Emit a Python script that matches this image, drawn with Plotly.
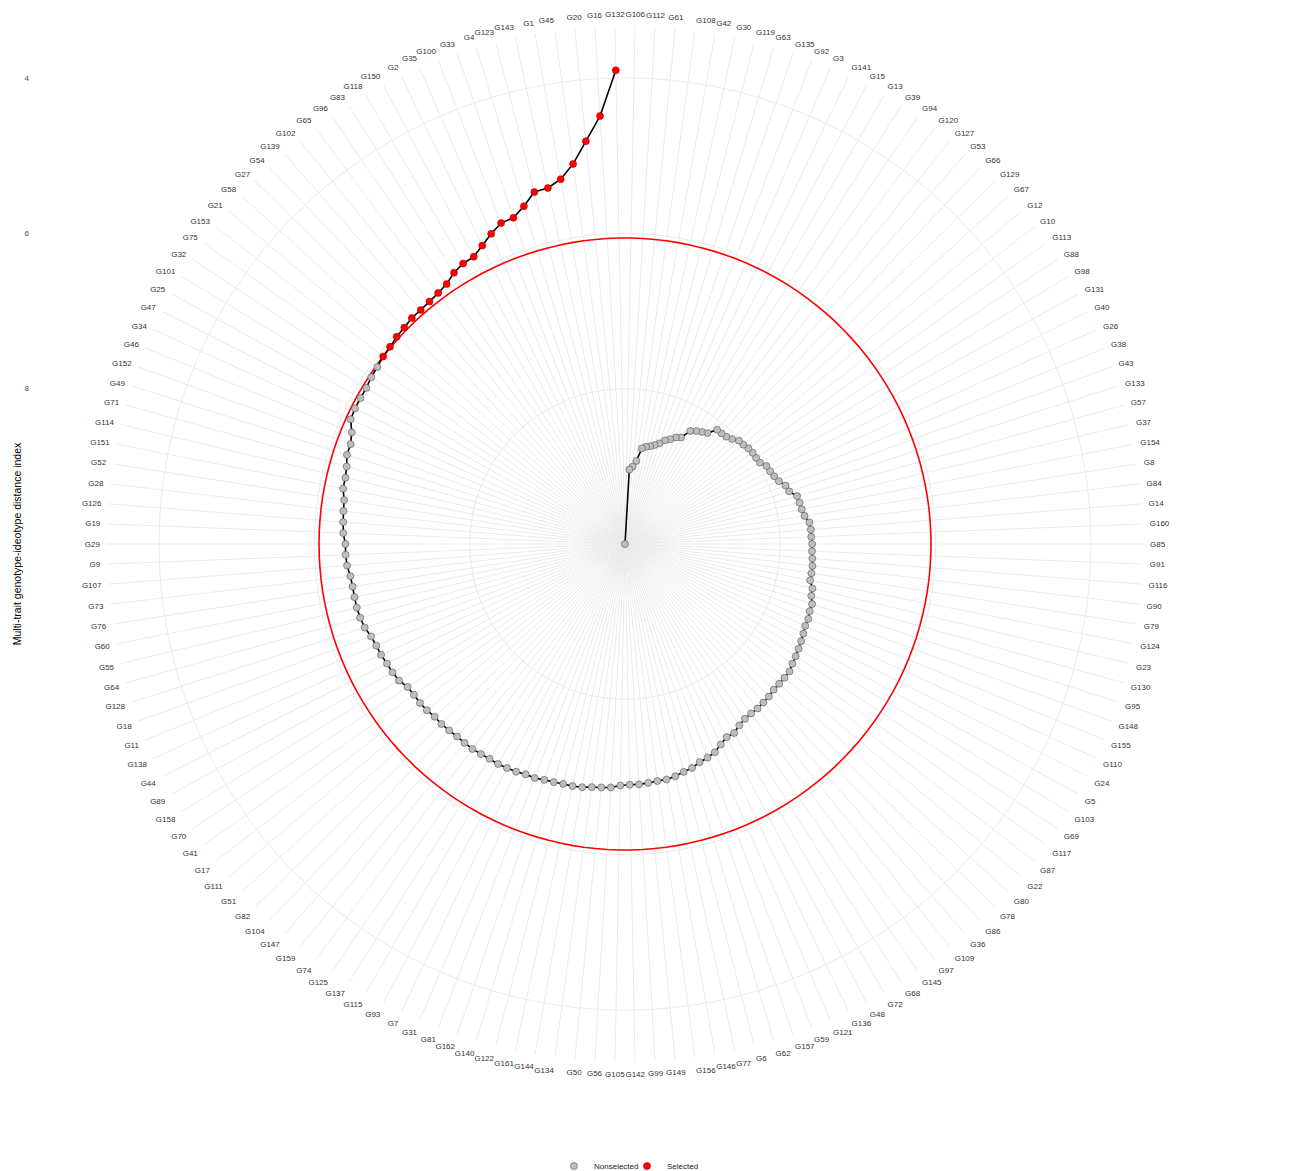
import plotly.graph_objects as go

# Genotypes ranked by MGIDI (lowest = closest to the ideotype)
genotypes = [
    "G132", "G16", "G20", "G45", "G1", "G143", "G123", "G4", "G33", "G100",
    "G35", "G2", "G150", "G118", "G83", "G96", "G65", "G102", "G139", "G54",
    "G27", "G58", "G21", "G153", "G75", "G32", "G101", "G25", "G47", "G34",
    "G46", "G152", "G49", "G71", "G114", "G151", "G52", "G28", "G126", "G19",
    "G29", "G9", "G107", "G73", "G76", "G60", "G55", "G64", "G128", "G18",
    "G11", "G138", "G44", "G89", "G158", "G70", "G41", "G17", "G111", "G51",
    "G82", "G104", "G147", "G159", "G74", "G125", "G137", "G115", "G93", "G7",
    "G31", "G81", "G162", "G140", "G122", "G161", "G144", "G134", "G50", "G56",
    "G105", "G142", "G99", "G149", "G156", "G146", "G77", "G6", "G62", "G157",
    "G59", "G121", "G136", "G48", "G72", "G68", "G145", "G97", "G109", "G36",
    "G86", "G78", "G80", "G22", "G87", "G117", "G69", "G103", "G5", "G24",
    "G110", "G155", "G148", "G95", "G130", "G23", "G124", "G79", "G90", "G116",
    "G91", "G85", "G160", "G14", "G84", "G8", "G154", "G37", "G57", "G133",
    "G43", "G38", "G26", "G40", "G131", "G98", "G88", "G113", "G10", "G12",
    "G67", "G129", "G66", "G53", "G127", "G120", "G94", "G39", "G13", "G15",
    "G141", "G3", "G92", "G135", "G63", "G119", "G30", "G42", "G108", "G61",
    "G112", "G106",
]

mgidi = [
    3.90, 4.48, 4.79, 5.06, 5.23, 5.31, 5.32, 5.46, 5.56, 5.57,
    5.65, 5.74, 5.82, 5.83, 5.87, 5.94, 5.97, 5.99, 6.00, 6.00,
    6.02, 6.03, 6.05, 6.06, 6.08, 6.09, 6.11, 6.11, 6.11, 6.12,
    6.20, 6.24, 6.24, 6.28, 6.30, 6.30, 6.34, 6.35, 6.36, 6.37,
    6.40, 6.40, 6.41, 6.44, 6.45, 6.45, 6.45, 6.46, 6.48, 6.52,
    6.54, 6.55, 6.57, 6.58, 6.60, 6.65, 6.66, 6.66, 6.67, 6.69,
    6.69, 6.70, 6.71, 6.71, 6.71, 6.72, 6.73, 6.73, 6.74, 6.75,
    6.77, 6.77, 6.79, 6.80, 6.81, 6.81, 6.82, 6.84, 6.85, 6.86,
    6.89, 6.90, 6.90, 6.91, 6.92, 6.92, 6.94, 6.97, 6.99, 7.03,
    7.05, 7.08, 7.14, 7.19, 7.19, 7.24, 7.27, 7.28, 7.28, 7.29,
    7.30, 7.32, 7.32, 7.32, 7.32, 7.35, 7.37, 7.39, 7.41, 7.43,
    7.45, 7.45, 7.47, 7.47, 7.51, 7.52, 7.57, 7.57, 7.57, 7.58,
    7.59, 7.59, 7.60, 7.60, 7.61, 7.66, 7.68, 7.69, 7.70, 7.78,
    7.80, 7.86, 7.89, 7.91, 7.92, 7.97, 7.98, 7.98, 7.99, 8.01,
    8.02, 8.07, 8.10, 8.11, 8.11, 8.22, 8.25, 8.28, 8.32, 8.45,
    8.48, 8.53, 8.57, 8.63, 8.67, 8.70, 8.72, 8.75, 8.92, 9.00,
    9.04, 10.00,
]

# radial tick marks and outer limit of the (reversed) radial scale
r_ticks = [4, 6, 8]
r_outer = 3.33

# selection intensity of 15 %
n_sel = round(len(genotypes) * 0.15)
sel_g, sel_v = genotypes[:n_sel], mgidi[:n_sel]
non_g, non_v = genotypes[n_sel:], mgidi[n_sel:]
cutpoint = max(sel_v)
r_center = max(mgidi)

font_family = "Liberation Sans, Arial, sans-serif"
grid_col = "#EBEBEB"

fig = go.Figure()

# cut-off circle
fig.add_trace(go.Scatterpolar(
    theta=genotypes + genotypes[:1],
    r=[cutpoint] * (len(genotypes) + 1),
    mode="lines",
    line=dict(color="#FF0000", width=1.6),
    showlegend=False,
    hoverinfo="skip",
))

# path through all genotypes in rank order
fig.add_trace(go.Scatterpolar(
    theta=genotypes,
    r=mgidi,
    mode="lines",
    line=dict(color="black", width=1.6),
    showlegend=False,
    hoverinfo="skip",
))

fig.add_trace(go.Scatterpolar(
    theta=non_g,
    r=non_v,
    mode="markers",
    name="Nonselected",
    marker=dict(size=7, color="#BEBEBE", line=dict(color="#555555", width=0.6)),
))

fig.add_trace(go.Scatterpolar(
    theta=sel_g,
    r=sel_v,
    mode="markers",
    name="Selected",
    marker=dict(size=7, color="#FF0000", line=dict(color="#B00000", width=0.6)),
))

# empty cartesian trace carrying the left-hand value axis
fig.add_trace(go.Scatter(x=[None], y=[None], showlegend=False, hoverinfo="skip"))

W, H = 1296, 1171
cx, cy, R = 625, 544, 518
dom_x = [(cx - R) / W, (cx + R) / W]
dom_y = [(H - cy - R) / H, (H - cy + R) / H]

fig.update_layout(
    width=W,
    height=H,
    margin=dict(l=0, r=0, t=0, b=0, autoexpand=False),
    paper_bgcolor="white",
    plot_bgcolor="rgba(0,0,0,0)",
    font=dict(family=font_family, size=8, color="#4D4D4D"),
    polar=dict(
        domain=dict(x=dom_x, y=dom_y),
        bgcolor="white",
        angularaxis=dict(
            type="category",
            categoryorder="array",
            categoryarray=genotypes,
            direction="counterclockwise",
            rotation=90 + 180 / len(genotypes),
            showline=False,
            ticks="outside",
            ticklen=5,
            tickcolor="rgba(0,0,0,0)",
            showgrid=True,
            gridcolor=grid_col,
            gridwidth=0.8,
            tickfont=dict(size=8, color="#333333"),
        ),
        radialaxis=dict(
            range=[r_center, r_outer],
            tickvals=r_ticks,
            showticklabels=False,
            ticks="",
            showline=False,
            showgrid=True,
            gridcolor=grid_col,
            gridwidth=1,
        ),
    ),
    xaxis=dict(domain=[30 / W, 0.9], visible=False, range=[0, 1]),
    yaxis=dict(
        anchor="x",
        domain=dom_y,
        range=[2 * r_center - r_outer, r_outer],
        tickvals=r_ticks,
        showgrid=False,
        zeroline=False,
        showline=False,
        ticks="",
        tickfont=dict(size=8, color="#4D4D4D"),
        title=dict(
            text="Multi-trait genotype-ideotype distance index",
            font=dict(size=10.5, color="black"),
            standoff=0,
        ),
    ),
    legend=dict(
        orientation="h",
        x=627 / W,
        xanchor="center",
        y=(H - 1166) / H,
        yanchor="middle",
        entrywidth=28,
        font=dict(size=8, color="#222222"),
        bgcolor="rgba(0,0,0,0)",
    ),
)

fig.write_html("out.html")
